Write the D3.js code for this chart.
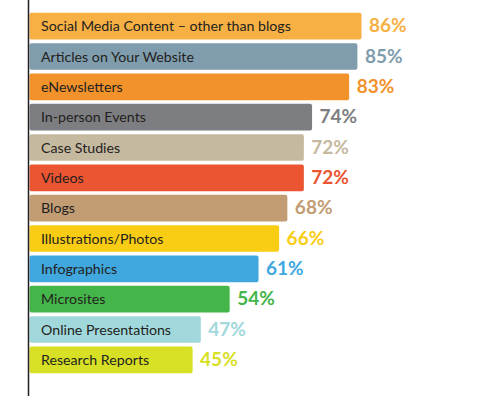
<!DOCTYPE html>
<html>
<head>
<meta charset="utf-8">
<script src="https://cdn.jsdelivr.net/npm/d3@7"></script>
<style>
  html, body { margin: 0; padding: 0; background: #fff; }
  svg { display: block; }
</style>
</head>
<body>
<svg id="chart" width="480" height="396"></svg>
<script>
const categories = [
  "Social Media Content – other than blogs",
  "Articles on Your Website",
  "eNewsletters",
  "In-person Events",
  "Case Studies",
  "Videos",
  "Blogs",
  "Illustrations/Photos",
  "Infographics",
  "Microsites",
  "Online Presentations",
  "Research Reports"
];
const values = [86, 85, 83, 74, 72, 72, 68, 66, 61, 54, 47, 45];
const colors = [
  "#F6B043", "#7F9DAD", "#F2922A", "#7D7E81", "#C5B9A0", "#EB5531",
  "#C29C73", "#F9CD14", "#40A8DF", "#44B649", "#A1D8DC", "#D7E024"
];
const valueLabels = values.map(v => v + "%");

const svg = d3.select("#chart");
const left = 29.5;

const x = d3.scaleLinear().domain([0, 100]).range([7.2, 419.2]);
const y = d3.scaleBand().domain(categories).range([11, 375]).paddingInner(0.12).paddingOuter(0.06);

const rows = svg.selectAll("g.row")
  .data(categories.map((c, i) => ({ c, v: values[i], col: colors[i], lab: valueLabels[i] })))
  .enter().append("g").attr("class", "row");

rows.append("rect")
  .attr("x", left)
  .attr("y", d => y(d.c))
  .attr("width", d => x(d.v) - left)
  .attr("height", y.bandwidth())
  .attr("rx", 2)
  .attr("fill", d => d.col);

rows.append("text")
  .attr("x", left + 11.5)
  .attr("y", d => y(d.c) + y.bandwidth() / 2 + 5.2)
  .attr("font-family", "Lato, 'Open Sans', sans-serif")
  .attr("font-size", 14.2)
  .attr("fill", "#231F20")
  .text(d => d.c);

rows.append("text")
  .attr("x", d => x(d.v) + 7.5)
  .attr("y", d => y(d.c) + y.bandwidth() / 2 + 6.2)
  .attr("font-family", "Lato, 'Open Sans', sans-serif")
  .attr("font-weight", "bold")
  .attr("font-size", 19)
  .attr("fill", d => d.col)
  .text(d => d.lab);

svg.append("line")
  .attr("x1", 28.5).attr("x2", 28.5)
  .attr("y1", 0).attr("y2", 396)
  .attr("stroke", "#231F20")
  .attr("stroke-width", 1.5);
</script>
</body>
</html>
